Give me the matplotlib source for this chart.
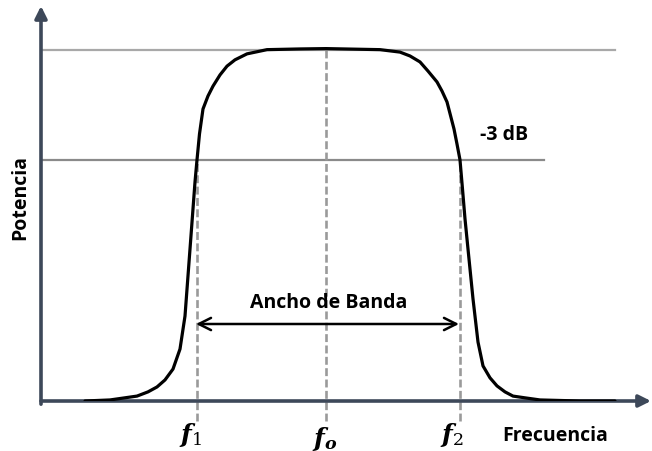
import matplotlib
matplotlib.use("Agg")
import matplotlib.pyplot as plt

plt.rcParams['mathtext.fontset'] = 'custom'
plt.rcParams['mathtext.it'] = 'DejaVu Serif:italic:bold'
plt.rcParams['mathtext.rm'] = 'DejaVu Serif'

# Frequency (arbitrary units) and normalized power of the band-pass curve
freq = [44, 69, 96, 107, 116, 124, 132, 139, 144, 149, 154, 156, 158.5,
        162, 167, 172, 179, 186, 194, 206, 226, 259, 285, 339, 359, 369,
        379, 387, 396, 401, 406, 413, 416, 419, 421.5, 424, 427, 432, 437,
        442, 449, 456, 464, 472, 484, 499, 539, 574]
power = [0.000, 0.003, 0.014, 0.026, 0.040, 0.060, 0.091, 0.148, 0.242,
         0.433, 0.624, 0.687, 0.761, 0.832, 0.869, 0.897, 0.929, 0.954,
         0.972, 0.989, 1.001, 1.003, 1.004, 1.001, 0.994, 0.983, 0.966,
         0.940, 0.909, 0.883, 0.852, 0.775, 0.732, 0.687, 0.604, 0.519,
         0.433, 0.291, 0.168, 0.100, 0.066, 0.043, 0.026, 0.014, 0.009,
         0.003, 0.000, 0.000]

f1, fo, f2 = 156, 285, 419
p_max, p_3db = 1.0, 0.687
f_labels = [r'$f_1$', r'$f_o$', r'$f_2$']

fig = plt.figure(figsize=(6.52, 4.52), dpi=100)
W, H = 652, 452
x0, y0 = 41, 402
ax = fig.add_axes([x0 / W, (H - y0) / H, (651 - x0) / W, (y0 - 7) / H])
ax.set_xlim(0, 610)
ax.set_ylim(0, 395 / 351)
ax.axis('off')

axis_col = '#3d4859'
ax.annotate('', xy=(1, 0), xytext=(0, 0), xycoords='axes fraction',
            arrowprops=dict(arrowstyle='-|>', lw=2.6, color=axis_col,
                            mutation_scale=18, shrinkA=0, shrinkB=0))
ax.annotate('', xy=(0, 1), xytext=(0, -0.008), xycoords='axes fraction',
            arrowprops=dict(arrowstyle='-|>', lw=2.6, color=axis_col,
                            mutation_scale=18, shrinkA=0, shrinkB=0))

# reference levels
ax.plot([1, 574], [p_max, p_max], color='#a8a8a8', lw=1.6, zorder=1)
ax.plot([1, 503], [p_3db, p_3db], color='#8a8a8a', lw=1.6, zorder=1)

# dashed frequency markers
ylow = -20 / 351
dash = dict(color='#9a9a9a', lw=1.9, ls=(0, (3, 1.3)), clip_on=False, zorder=2)
ax.plot([f1, f1], [ylow, p_3db], **dash)
ax.plot([fo, fo], [ylow, p_max + 0.008], **dash)
ax.plot([f2, f2], [ylow, p_3db], **dash)

# curve
ax.plot(freq, power, color='black', lw=2.3, solid_capstyle='round',
        solid_joinstyle='round', zorder=3)

# bandwidth arrow
yb = (402 - 325) / 351
ax.annotate('', xy=(f2 - 1, yb), xytext=(f1 - 1, yb),
            arrowprops=dict(arrowstyle='<->', lw=1.8, color='black',
                            mutation_scale=22, shrinkA=0, shrinkB=0))
ax.text((f1 + f2) / 2, (402 - 303) / 351, 'Ancho de Banda', ha='center',
        va='center', fontsize=14, fontweight='bold', family='Open Sans')

ax.text(463, (402 - 135) / 351, '-3 dB', ha='center', va='center',
        fontsize=14, fontweight='bold', family='Open Sans')

for fx, lab, dy in zip([f1 - 7, fo - 1, f2 - 8], f_labels, [435, 439, 435]):
    ax.text(fx, (402 - dy) / 351, lab, ha='center', va='center', fontsize=18,
            clip_on=False)

fig.text(555 / W, 1 - 436 / H, 'Frecuencia', ha='center', va='center',
         fontsize=14, fontweight='bold', family='Open Sans')
fig.text(20 / W, 1 - 198 / H, 'Potencia', ha='center', va='center',
         rotation=90, fontsize=14, fontweight='bold', family='Open Sans')

fig.savefig('out.png', dpi=100)
